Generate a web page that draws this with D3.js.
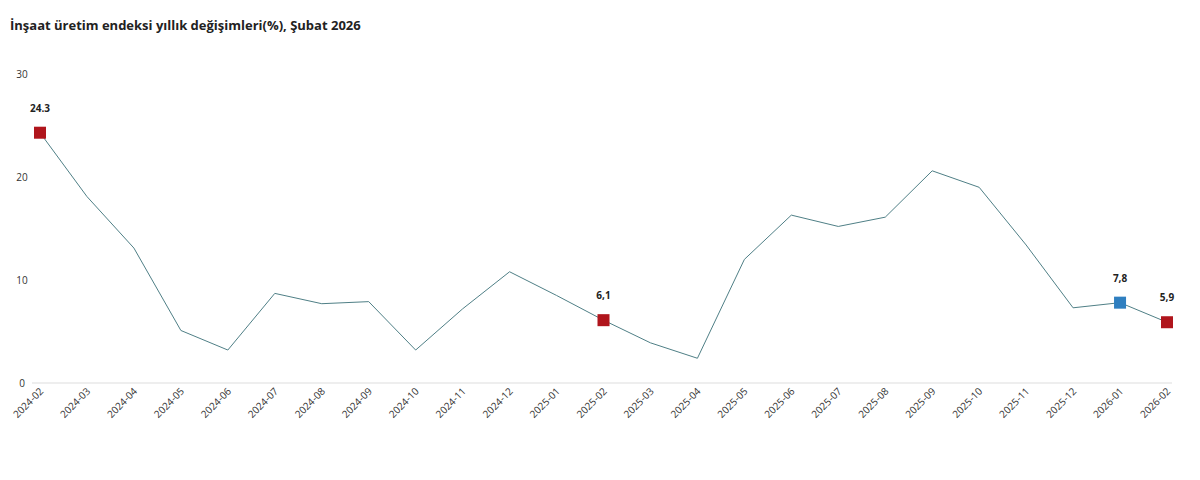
<!DOCTYPE html>
<html><head><meta charset="utf-8">
<script src="https://cdn.jsdelivr.net/npm/d3@7"></script>
<style>body{margin:0;background:#fff;font-family:"Open Sans",sans-serif;}</style>
</head><body><div id="root"></div>
<script>
var width = 1200, height = 480;

var months = ["2024-02","2024-03","2024-04","2024-05","2024-06","2024-07","2024-08","2024-09","2024-10","2024-11","2024-12","2025-01","2025-02","2025-03","2025-04","2025-05","2025-06","2025-07","2025-08","2025-09","2025-10","2025-11","2025-12","2026-01","2026-02"];
var values = [24.3,18.1,13.1,5.1,3.2,8.7,7.7,7.9,3.2,7.2,10.8,8.5,6.1,3.9,2.4,12.0,16.3,15.2,16.1,20.6,19.0,13.4,7.3,7.8,5.9];
// highlighted points: month, label, colour
var marked = [["2024-02","24.3","#b0151c"],["2025-02","6,1","#b0151c"],["2026-01","7,8","#2f7fc0"],["2026-02","5,9","#b0151c"]];
var yTicks = [0,10,20,30];

var svg = d3.select("#root").append("svg").attr("width", width).attr("height", height);

svg.append("text").attr("x", 10).attr("y", 30)
  .attr("font-size", "13px").attr("font-weight", "bold").attr("fill", "#222")
  .text("İnşaat üretim endeksi yıllık değişimleri(%), Şubat 2026");

var x = d3.scalePoint().domain(months).range([40, 1167]);
var y = d3.scaleLinear().domain([0, 30]).range([383, 74]);

svg.append("line").attr("x1", 32).attr("x2", 1172).attr("y1", y(0)).attr("y2", y(0))
  .attr("stroke", "#ddd");

svg.selectAll(".yt").data(yTicks).enter().append("text")
  .attr("x", 22).attr("y", function(d){ return y(d) + 4; })
  .attr("text-anchor", "middle").attr("font-size", "10px").attr("fill", "#333")
  .text(function(d){ return d; });

svg.selectAll(".xt").data(months).enter().append("text")
  .attr("transform", function(d){ return "translate(" + (x(d) + 4) + "," + 392 + ") rotate(-45)"; })
  .attr("text-anchor", "end").attr("font-size", "10px").attr("fill", "#333")
  .text(function(d){ return d; });

var line = d3.line().x(function(d, i){ return x(months[i]); }).y(function(d){ return y(d); });
svg.append("path").datum(values).attr("d", line)
  .attr("fill", "none").attr("stroke", "#4f7f86").attr("stroke-width", 1);

var g = svg.selectAll(".mk").data(marked).enter().append("g");
g.append("rect")
  .attr("x", function(d){ return x(d[0]) - 6; })
  .attr("y", function(d){ return y(values[months.indexOf(d[0])]) - 6; })
  .attr("width", 12).attr("height", 12)
  .attr("fill", function(d){ return d[2]; });
g.append("text")
  .attr("x", function(d){ return x(d[0]); })
  .attr("y", function(d){ return y(values[months.indexOf(d[0])]) - 21; })
  .attr("text-anchor", "middle").attr("font-size", "10px").attr("font-weight", "bold").attr("fill", "#222")
  .text(function(d){ return d[1]; });
</script></body></html>
